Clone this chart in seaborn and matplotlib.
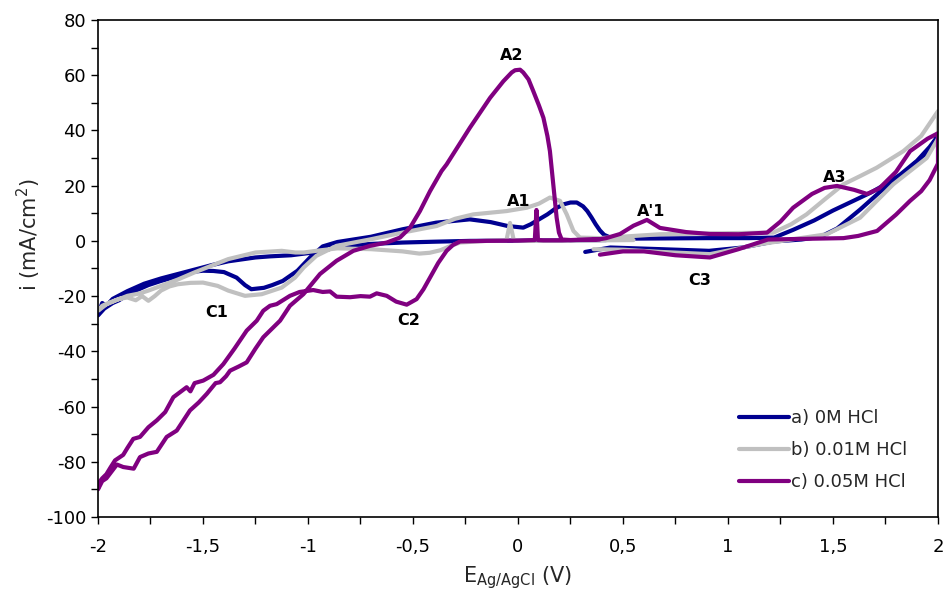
import numpy as np
import pandas as pd
import matplotlib
matplotlib.use("Agg")
import matplotlib.pyplot as plt
import seaborn as sns
from matplotlib.ticker import FuncFormatter, MultipleLocator

# ---------------- data ----------------
labels = ["a) 0M HCl", "b) 0.01M HCl", "c) 0.05M HCl"]
colors = ["#000090", "#c0c0c0", "#800080"]

E_a = [0.42, 0.2, 0.0, -0.23, -0.4, -0.55, -0.7, -0.82, -0.9, -0.975, -1.08, -1.18, -1.25, -1.38,
       -1.46, -1.54, -1.62, -1.7, -1.78, -1.86, -1.93, -1.96, -1.98, -2.0,
       -2.0, -1.97, -1.93, -1.9, -1.86, -1.82, -1.76, -1.7, -1.62, -1.55, -1.5, -1.45, -1.4, -1.34,
       -1.3, -1.27, -1.21, -1.17, -1.12, -1.05, -0.99, -0.93, -0.86, -0.7, -0.55, -0.39, -0.23,
       -0.13, -0.05, 0.025, 0.06, 0.1, 0.14, 0.18, 0.22, 0.25, 0.28, 0.31, 0.33, 0.35, 0.37, 0.39,
       0.41, 0.44, 0.5, 0.7, 0.9, 1.1, 1.22, 1.31, 1.41, 1.5, 1.6, 1.68, 1.75, 1.82, 1.9, 1.96, 2.0,
       1.96, 1.87, 1.8, 1.72, 1.63, 1.52, 1.44, 1.35, 1.22, 1.07, 0.91, 0.68, 0.44, 0.32]
i_a = [0.3, 0.2, 0.1, 0.0, -0.3, -0.6, -1.1, -1.8, -2.8, -4.2, -5.2, -5.6, -6.0, -7.4,
       -8.8, -10.4, -12.0, -13.6, -15.5, -18.2, -21.0, -23.5, -22.5, -26.5,
       -27.0, -24.5, -22.5, -21.5, -19.5, -18.0, -16.0, -14.5, -12.8, -11.2, -10.8, -10.9, -11.3, -13.3,
       -16.0, -17.5, -17.0, -16.0, -14.5, -10.8, -6.0, -2.0, -0.4, 1.5, 4.2, 6.6, 7.8,
       6.8, 5.4, 4.8, 6.0, 7.8, 9.6, 11.8, 13.3, 13.9, 13.9, 12.5, 10.8, 8.5, 6.0, 3.8,
       2.2, 1.2, 0.8, 0.9, 1.0, 1.0, 1.2, 4.0, 7.4, 11.0, 14.6, 17.5, 20.5, 24.0, 29.0, 34.0, 38.0,
       33.0, 26.5, 22.0, 17.5, 11.4, 4.5, 1.5, 0.5, -0.2, -2.4, -3.6, -3.0, -2.4, -4.0]

E_b = [0.55, 0.4, 0.2, 0.05, -0.02, -0.038, -0.055, -0.15, -0.276, -0.32, -0.37, -0.42, -0.47, -0.55,
       -0.7, -0.86, -0.95, -1.02, -1.06, -1.125, -1.25, -1.38, -1.46, -1.54, -1.62, -1.7, -1.76, -1.8,
       -1.86, -1.92, -1.96, -2.0,
       -1.98, -1.95, -1.9, -1.86, -1.82, -1.79, -1.76, -1.73, -1.7, -1.66, -1.62, -1.56, -1.5, -1.43,
       -1.38, -1.3, -1.22, -1.125, -1.062, -1.02, -0.96, -0.864, -0.7, -0.55, -0.387, -0.3, -0.213,
       -0.054, 0.041, 0.1, 0.152, 0.2, 0.232, 0.264, 0.295, 0.39, 0.676, 1.0, 1.216, 1.3, 1.374, 1.46,
       1.55, 1.63, 1.708, 1.835, 1.92, 2.0,
       2.0, 1.946, 1.787, 1.629, 1.47, 1.31, 1.152, 0.914, 0.68, 0.5, 0.36]
i_b = [0.3, 0.2, 0.1, 0.0, 0.2, 6.5, 0.2, 0.0, -0.6, -1.8, -3.4, -4.3, -4.6, -3.8,
       -3.0, -2.7, -3.5, -4.2, -4.2, -3.6, -4.2, -6.6, -9.0, -11.4, -14.0, -16.3, -18.0, -19.0,
       -19.9, -21.7, -23.0, -25.3,
       -23.5, -22.5, -21.0, -20.5, -21.5, -20.0, -21.7, -20.0, -18.0, -16.5, -15.7, -15.2, -15.1, -16.3,
       -18.0, -19.9, -19.3, -16.9, -13.3, -9.6, -5.4, -1.8, 0.6, 3.0, 5.4, 8.0, 9.6,
       10.8, 12.0, 13.5, 15.7, 14.5, 9.6, 3.6, 1.2, 1.0, 2.4, 2.8, 3.0, 6.0, 9.6, 15.0,
       20.5, 23.5, 26.5, 32.5, 38.0, 47.0,
       37.0, 30.0, 20.5, 8.4, 2.4, 0.6, -1.2, -4.8, -4.0, -3.2, -3.0]

E_c = [0.39, 0.3, 0.21, 0.12, 0.095, 0.088, 0.08, 0.0, -0.15, -0.276, -0.31, -0.34, -0.38, -0.419,
       -0.45, -0.483, -0.53, -0.58, -0.625, -0.673, -0.705, -0.75, -0.8, -0.864, -0.895, -0.93,
       -0.975, -1.04, -1.086, -1.149, -1.181, -1.213, -1.244, -1.292, -1.35, -1.403, -1.45, -1.499,
       -1.54, -1.56, -1.578, -1.641, -1.68, -1.72, -1.76, -1.8, -1.832, -1.86, -1.88, -1.919, -1.94,
       -1.96, -1.98, -2.0,
       -2.0, -1.98, -1.96, -1.93, -1.91, -1.88, -1.83, -1.8, -1.76, -1.72, -1.673, -1.625, -1.562,
       -1.52, -1.482, -1.44, -1.419, -1.39, -1.371, -1.33, -1.292, -1.25, -1.213, -1.133, -1.086,
       -1.022, -0.943, -0.864, -0.784, -0.705, -0.625, -0.562, -0.514, -0.467, -0.419, -0.364, -0.34,
       -0.229, -0.133, -0.07, -0.03, -0.014, 0.01, 0.025, 0.05, 0.073, 0.1, 0.121, 0.14, 0.152, 0.168,
       0.184, 0.195, 0.208, 0.25, 0.35, 0.39, 0.42, 0.486, 0.55, 0.614, 0.676, 0.8, 0.914, 1.05,
       1.186, 1.25, 1.31, 1.4, 1.46, 1.519, 1.6, 1.662, 1.72, 1.8, 1.867, 1.95, 2.0,
       2.0, 1.96, 1.92, 1.867, 1.8, 1.71, 1.62, 1.55, 1.4, 1.19, 1.05, 0.914, 0.75, 0.6, 0.5, 0.39]
i_c = [0.6, 0.4, 0.2, 0.2, 0.3, 11.2, 0.3, 0.1, 0.0, -0.2, -1.5, -3.6, -8.0, -13.3,
       -17.5, -21.1, -23.1, -22.0, -19.9, -19.0, -20.2, -20.0, -20.4, -20.2, -18.3, -18.5,
       -17.8, -18.5, -19.9, -22.9, -23.5, -25.3, -28.9, -32.5, -39.0, -44.6, -48.5, -50.6,
       -51.5, -54.5, -53.0, -56.6, -62.0, -65.0, -67.5, -71.0, -71.7, -75.0, -77.5, -79.5, -82.0,
       -84.5, -86.0, -88.0,
       -90.0, -87.0, -86.0, -83.0, -81.0, -81.9, -82.5, -78.3, -77.0, -76.4, -71.0, -68.7, -61.4,
       -58.5, -55.4, -51.5, -51.2, -49.0, -47.0, -45.5, -44.0, -39.0, -34.9, -28.9, -23.5,
       -19.3, -12.0, -7.2, -3.6, -1.8, -0.6, 1.2, 4.8, 10.8, 18.0, 25.3, 27.7,
       41.0, 51.8, 57.8, 61.0, 61.8, 62.0, 61.0, 58.5, 54.2, 49.0, 44.6, 38.0, 32.5, 20.5,
       8.4, 3.0, 0.5, 0.3, 0.4, 0.6, 1.0, 2.5, 5.5, 7.6, 4.7, 3.2, 2.5, 2.4,
       3.0, 7.0, 12.0, 17.0, 19.2, 19.9, 18.5, 17.0, 19.0, 25.0, 32.5, 37.0, 39.0,
       28.0, 22.0, 18.0, 14.5, 9.5, 3.6, 1.8, 1.0, 0.8, 0.5, -3.0, -6.0, -5.2, -3.8, -3.8, -5.0]

peak_names = ["A2", "A1", "A'1", "A3", "C1", "C2", "C3"]
peak_E = [-0.03, 0.005, 0.635, 1.51, -1.435, -0.522, 0.867]
peak_i = [67.0, 14.3, 10.8, 22.9, -25.9, -29.0, -14.5]

x_ticks = [-2, -1.5, -1, -0.5, 0, 0.5, 1, 1.5, 2]
y_ticks = [-100, -80, -60, -40, -20, 0, 20, 40, 60, 80]

# ---------------- build table ----------------
frames = []
for lab, E, I in zip(labels, [E_a, E_b, E_c], [i_a, i_b, i_c]):
    frames.append(pd.DataFrame({"E": E, "i": I, "series": lab}))
df = pd.concat(frames, ignore_index=True)

sns.set_style("ticks")
plt.rcParams["font.family"] = ["DejaVu Sans"]
plt.rcParams["axes.unicode_minus"] = False

fig = plt.figure(figsize=(9.45, 5.9), dpi=100)
ax = fig.add_axes([98 / 945, 1 - 517 / 590, 840 / 945, 497 / 590])

sns.lineplot(data=df, x="E", y="i", hue="series", palette=dict(zip(labels, colors)),
             sort=False, estimator=None, linewidth=3, ax=ax)
for ln in ax.get_lines():
    ln.set_solid_joinstyle("round")
    ln.set_solid_capstyle("round")

ax.set_xlim(-2, 2)
ax.set_ylim(-100, 80)
ax.set_xticks(x_ticks)
ax.set_yticks(y_ticks)
ax.xaxis.set_minor_locator(MultipleLocator(0.25))
ax.yaxis.set_minor_locator(MultipleLocator(10))


def comma(v, pos):
    return ("%g" % v).replace(".", ",")


ax.xaxis.set_major_formatter(FuncFormatter(comma))
ax.yaxis.set_major_formatter(FuncFormatter(comma))
ax.tick_params(which="both", direction="out", length=5, width=1, color="black",
               labelsize=13, labelcolor="black")
ax.tick_params(axis="x", which="major", pad=10)
for sp in ax.spines.values():
    sp.set_visible(True)
    sp.set_color("black")
    sp.set_linewidth(1.2)

ax.set_xlabel(r"E$_{\mathrm{Ag/AgCl}}$ (V)", fontsize=15)
ax.set_ylabel(r"i (mA/cm$^{2}$)", fontsize=15)
ax.xaxis.set_label_coords(0.5, -0.095)
ax.yaxis.set_label_coords(-0.066, 0.567)

for name, xe, yi in zip(peak_names, peak_E, peak_i):
    ax.text(xe, yi, name, ha="center", va="center", fontsize=11.5, fontweight="bold", color="black")

handles, labs = ax.get_legend_handles_labels()
ax.legend(handles, labs, loc="upper left", bbox_to_anchor=(739 / 945, 1 - 409 / 590),
          bbox_transform=fig.transFigure, frameon=False, fontsize=13, handlelength=2.75,
          handletextpad=0.15, labelspacing=0.78, borderpad=0, borderaxespad=0)

fig.savefig("out.png", dpi=100)
